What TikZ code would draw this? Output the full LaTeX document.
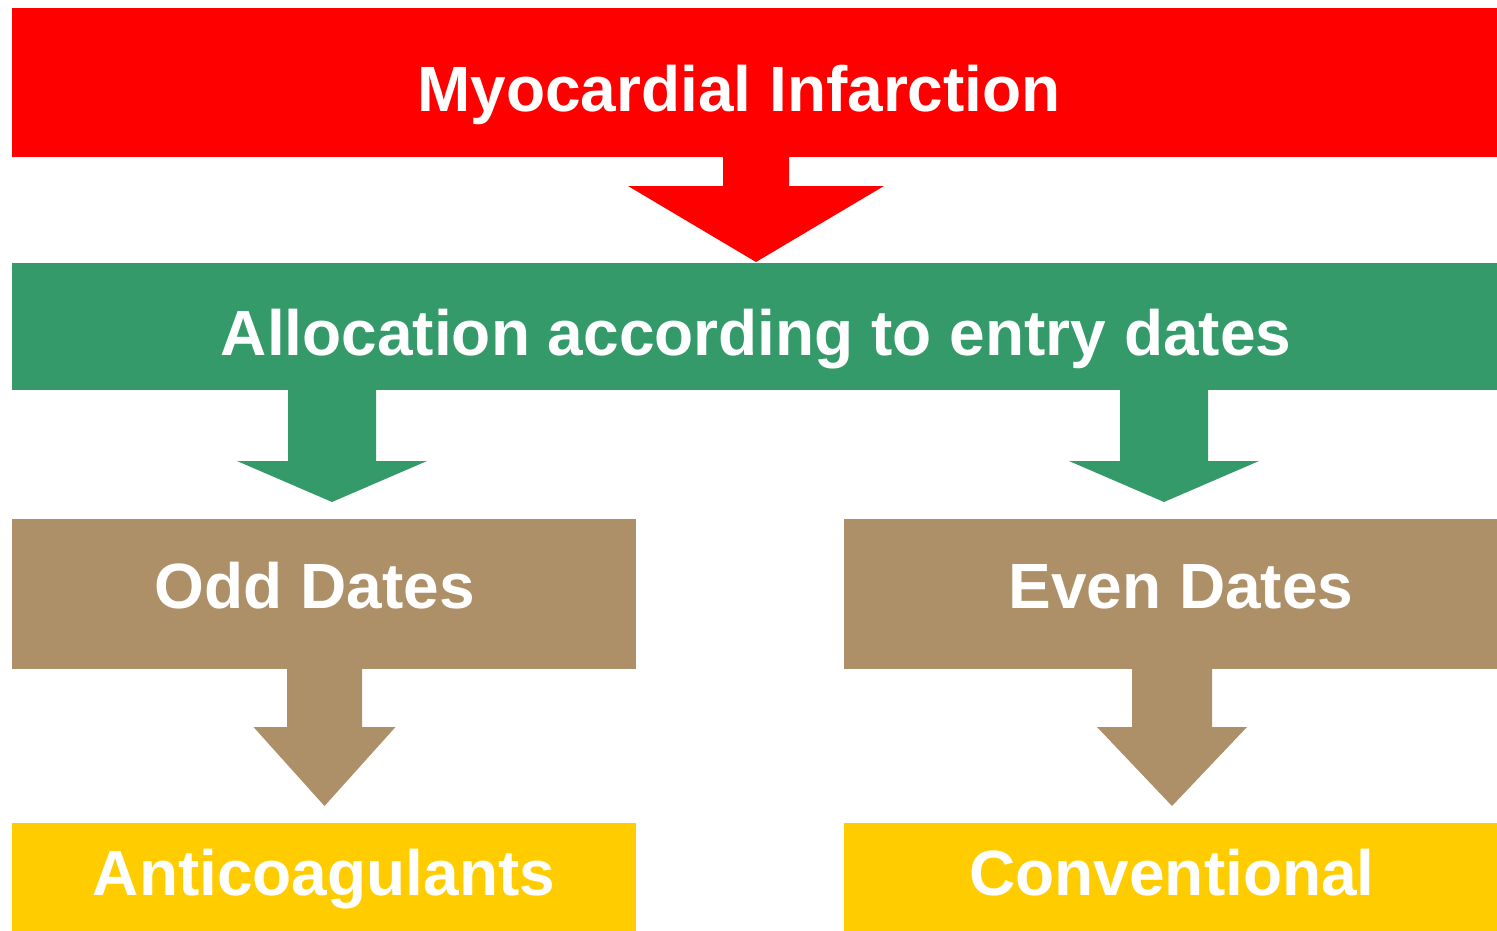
\documentclass[tikz,border=0pt]{standalone}
\usepackage{fontspec}
\setmainfont{Liberation Sans}
\definecolor{cred}{RGB}{255,0,0}
\definecolor{cgreen}{RGB}{53,154,106}
\definecolor{ctan}{RGB}{173,143,104}
\definecolor{cyellow}{RGB}{255,204,0}
\newcommand\blkarrow[7]{%
  \fill[#1] (#2-#4,#3) -- (#2-#4,#5) -- (#2-#6,#5) -- (#2,#7) -- (#2+#6,#5) -- (#2+#4,#5) -- (#2+#4,#3) -- cycle;}
\begin{document}
\begin{tikzpicture}[x=1pt,y=-1pt,
  box/.style={inner sep=0pt, outer sep=0pt, anchor=north west},
  lbl/.style={anchor=base, text=white, inner sep=0pt, font=\bfseries\fontsize{64}{72}\selectfont}]
\useasboundingbox[fill=white] (0,0) rectangle (1497,931);
% boxes
\node[box, fill=cred, minimum width=1485pt, minimum height=149pt] (mi) at (12,8) {};
\node[box, fill=cgreen, minimum width=1485pt, minimum height=127pt] (alloc) at (12,263) {};
\node[box, fill=ctan, minimum width=624pt, minimum height=150pt] (odd) at (12,519) {};
\node[box, fill=ctan, minimum width=653pt, minimum height=150pt] (even) at (844,519) {};
\node[box, fill=cyellow, minimum width=624pt, minimum height=108pt] (anti) at (12,823) {};
\node[box, fill=cyellow, minimum width=653pt, minimum height=108pt] (conv) at (844,823) {};
% block arrows
\blkarrow{cred}{756}{157}{33}{186}{128}{262}
\blkarrow{cgreen}{332}{390}{44}{461}{95}{502}
\blkarrow{cgreen}{1164}{390}{44}{461}{95}{502}
\blkarrow{ctan}{324.5}{668}{37.5}{727}{71}{806}
\blkarrow{ctan}{1172}{668}{40}{727}{75}{806}
% labels
\node[lbl] (tmi) at (739,112) {Myocardial Infarction};
\node[lbl] (talloc) at (756,355) {Allocation according to entry dates};
\node[lbl] (todd) at (315,608) {Odd Dates};
\node[lbl] (teven) at (1181,608) {Even Dates};
\node[lbl] (tanti) at (324,895) {Anticoagulants};
\node[lbl] (tconv) at (1172,895) {Conventional};
\end{tikzpicture}
\end{document}
